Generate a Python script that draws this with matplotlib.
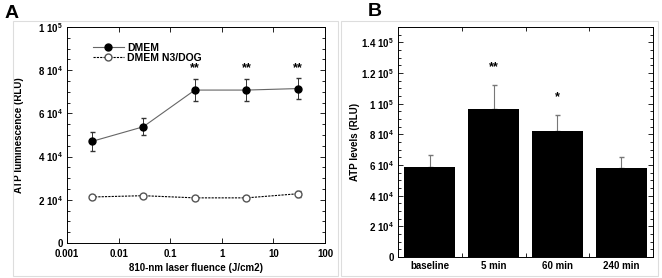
import matplotlib
matplotlib.use('Agg')
import matplotlib.pyplot as plt
from matplotlib.ticker import FixedLocator, MultipleLocator, NullLocator
from matplotlib.patches import Rectangle
from matplotlib.lines import Line2D

plt.rcParams['font.family'] = ['Liberation Sans', 'DejaVu Sans']
plt.rcParams['font.weight'] = 'bold'
plt.rcParams['axes.labelweight'] = 'bold'
plt.rcParams['font.size'] = 7
plt.rcParams['mathtext.fontset'] = 'custom'
plt.rcParams['mathtext.bf'] = 'Liberation Sans:bold'
plt.rcParams['mathtext.rm'] = 'Liberation Sans:bold'
plt.rcParams['mathtext.default'] = 'bf'

# ---- data: panel A ----
fluence = [0.003, 0.03, 0.3, 3, 30]
dmem = [47000, 53800, 70800, 70800, 71500]
dmem_err = [4200, 4000, 5000, 5000, 4700]
dog = [21300, 21900, 20900, 20900, 22800]
dog_err = [1000, 1000, 800, 800, 1500]
stars_a = ['', '', '**', '**', '**']
yticks_a = [0, 20000, 40000, 60000, 80000, 100000]
ytick_labels_a = ['0', r'2 10$^4$', r'4 10$^4$', r'6 10$^4$', r'8 10$^4$', r'1 10$^5$']
xtick_labels_a = ['0.001', '0.01', '0.1', '1', '10', '100']

# ---- data: panel B ----
groups = ['baseline', '5 min', '60 min', '240 min']
atp = [59000, 96700, 82300, 58100]
atp_err = [7800, 15300, 10000, 7400]
stars_b = ['', '**', '*', '']
yticks_b = [0, 20000, 40000, 60000, 80000, 100000, 120000, 140000]
ytick_labels_b = ['0', r'2 10$^4$', r'4 10$^4$', r'6 10$^4$', r'8 10$^4$',
                  r'1 10$^5$', r'1.2 10$^5$', r'1.4 10$^5$']

fig = plt.figure(figsize=(6.62, 2.78), dpi=100)

# light panel frames
for x0, w in [(13, 325), (341, 317)]:
    fig.patches.append(Rectangle((x0 / 662, 1 - 276 / 278), w / 662, 255 / 278,
                                 transform=fig.transFigure, fill=False,
                                 edgecolor='#dddddd', linewidth=0.8))

# =================== A ===================
ax1 = fig.add_axes([67 / 662, 1 - 243 / 278, 258 / 662, 216 / 278])
ax1.set_xscale('log')
ax1.plot(fluence, dmem, '-', color='#666666', lw=0.8, zorder=2)
ax1.errorbar(fluence, dmem, yerr=dmem_err, fmt='o', ecolor='#333333',
             mfc='black', mec='black', ms=5, elinewidth=0.7, capsize=1.8, zorder=3)
ax1.plot(fluence, dog, '--', color='black', lw=0.8, dashes=(2, 1), zorder=2)
ax1.errorbar(fluence, dog, yerr=dog_err, fmt='o', ecolor='#333333',
             mfc='white', mec='#555555', ms=5, elinewidth=0.7, capsize=1.8, zorder=3)
for x, y, e, s in zip(fluence, dmem, dmem_err, stars_a):
    if s:
        ax1.text(x, 80800, s, ha='center', va='center', fontsize=9)

ax1.set_xlim(0.001, 100)
ax1.set_ylim(0, 100000)
ax1.xaxis.set_major_locator(FixedLocator([0.001, 0.01, 0.1, 1, 10, 100]))
ax1.xaxis.set_minor_locator(NullLocator())
ax1.set_xticklabels(xtick_labels_a)
ax1.set_yticks(yticks_a)
ax1.set_yticklabels(ytick_labels_a)
ax1.yaxis.set_minor_locator(MultipleLocator(5000))
ax1.tick_params(which='both', direction='in', top=True, right=True, width=0.6)
ax1.tick_params(which='major', length=3.5, pad=3)
ax1.tick_params(axis='x', which='major', pad=4.5)
ax1.tick_params(which='minor', length=2)
for sp in ax1.spines.values():
    sp.set_linewidth(0.7)
ax1.set_xlabel('810-nm laser fluence (J/cm2)', labelpad=3)
ax1.set_ylabel('ATP luminescence (RLU)', labelpad=10)
handles = [
    Line2D([0], [0], color='#666666', lw=0.8, marker='o', mfc='black', mec='black', ms=5),
    Line2D([0], [0], color='black', lw=0.8, ls=(0, (2, 1)), marker='o', mfc='white',
           mec='#555555', ms=5),
]
ax1.legend(handles, ['DMEM', 'DMEM N3/DOG'], loc='upper left', bbox_to_anchor=(0.08, 0.95),
           frameon=False, handlelength=3.0, handletextpad=0.3, labelspacing=0.0,
           borderpad=0, fontsize=7.5)
fig.text(12 / 662, 1 - 13 / 278, 'A', fontsize=14, ha='center', va='center')

# =================== B ===================
ax2 = fig.add_axes([398 / 662, 1 - 257 / 278, 255 / 662, 230 / 278])
xpos = list(range(len(groups)))
ax2.bar(xpos, atp, width=0.8, color='black', zorder=2)
ax2.errorbar(xpos, atp, yerr=[[0] * len(atp), atp_err], fmt='none', ecolor='#777777',
             elinewidth=0.8, capsize=1.8, zorder=1)
for x, y, e, s in zip(xpos, atp, atp_err, stars_b):
    if s:
        ax2.text(x, y + e + 12000, s, ha='center', va='center', fontsize=9)
ax2.set_xlim(-0.5, len(groups) - 0.5)
ax2.set_ylim(0, 150000)
ax2.set_xticks(xpos)
ax2.set_xticklabels(groups)
ax2.xaxis.set_minor_locator(FixedLocator([0.5, 1.5, 2.5]))
ax2.set_yticks(yticks_b)
ax2.set_yticklabels(ytick_labels_b)
ax2.yaxis.set_minor_locator(MultipleLocator(5000))
ax2.tick_params(axis='x', which='major', length=0, pad=3)
ax2.tick_params(axis='x', which='minor', direction='in', top=True, length=3, width=0.6)
ax2.tick_params(axis='y', which='both', direction='in', right=True, width=0.6)
ax2.tick_params(axis='y', which='major', length=3.5, pad=3)
ax2.tick_params(axis='y', which='minor', length=2)
for sp in ax2.spines.values():
    sp.set_linewidth(0.7)
ax2.set_ylabel('ATP levels (RLU)', labelpad=1)
fig.text(375 / 662, 1 - 12 / 278, 'B', fontsize=14, ha='center', va='center')

fig.savefig('out.png', dpi=100)
